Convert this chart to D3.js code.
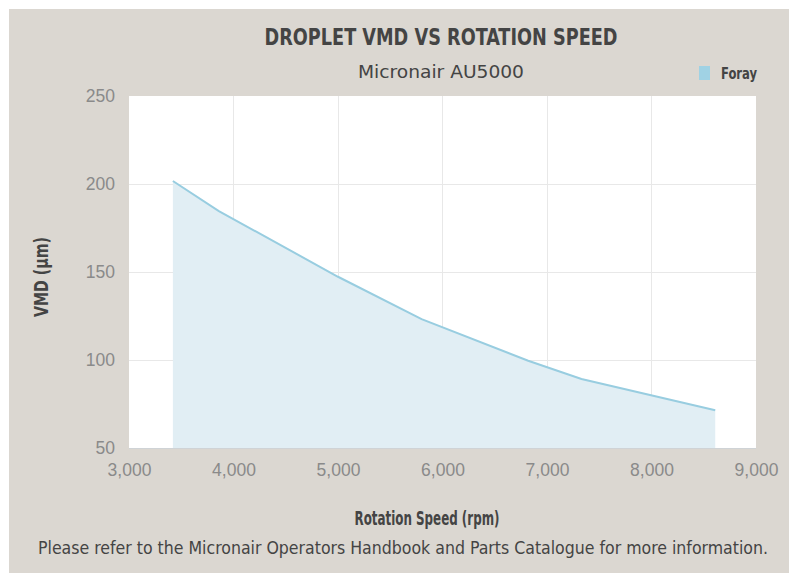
<!DOCTYPE html>
<meta charset="utf-8">
<style>
    body {
        margin: 0;
        background: #fff;
    }

    svg {
        font-family: "Liberation Sans Narrow", "DejaVu Sans Condensed", sans-serif;
    }

    .grid line {
        stroke: #e8e8e8;
        shape-rendering: crispEdges;
    }

    .axis path,
    .axis line {
        display: none;
    }

    .axis text {
        fill: #8a8a8a;
        font-size: 17.5px;
    }
</style>
<body>
<script src="https://cdn.jsdelivr.net/npm/d3@7"></script>
<script>
    // chart data
    const rpm = [3420, 3860, 5000, 5800, 6820, 7330, 8610];
    const vmd = [201.7, 184.6, 147.3, 123.2, 99.6, 89.2, 71.5];
    const xTicks = [3000, 4000, 5000, 6000, 7000, 8000, 9000];
    const yTicks = [50, 100, 150, 200, 250];
    const seriesName = 'Foray';

    const W = 792, H = 573;
    const margin = {top: 96, right: 36, bottom: 125, left: 129};
    const width = W - margin.left - margin.right;   // plot width
    const height = H - margin.top - margin.bottom;  // plot height

    const lineColor = '#98cde0';
    const fillColor = '#e1eef4';

    const svg = d3.select('body')
        .append('svg')
        .attr('width', W)
        .attr('height', H);

    // beige panel behind everything
    svg.append('rect')
        .attr('x', 9)
        .attr('y', 9)
        .attr('width', 780)
        .attr('height', H)
        .attr('fill', '#dbd7d1');

    const g = svg.append('g')
        .attr('transform', `translate(${margin.left},${margin.top})`);

    const x = d3.scaleLinear().domain([3000, 9000]).range([0, width]);
    const y = d3.scaleLinear().domain([50, 250]).range([height, 0]);

    // plot background
    g.append('rect')
        .attr('width', width)
        .attr('height', height)
        .attr('fill', '#fff');

    // grid
    g.append('g')
        .attr('class', 'grid')
        .selectAll('line.v')
        .data(xTicks.slice(1, -1))
        .enter().append('line')
        .attr('x1', d => x(d)).attr('x2', d => x(d))
        .attr('y1', 0).attr('y2', height);

    g.append('g')
        .attr('class', 'grid')
        .selectAll('line.h')
        .data(yTicks.slice(1, -1))
        .enter().append('line')
        .attr('x1', 0).attr('x2', width)
        .attr('y1', d => y(d)).attr('y2', d => y(d));

    const data = rpm.map((r, i) => ({x: r, y: vmd[i]}));

    // area + line
    g.append('path')
        .datum(data)
        .attr('fill', fillColor)
        .attr('d', d3.area().x(d => x(d.x)).y0(height).y1(d => y(d.y)));

    g.append('path')
        .datum(data)
        .attr('fill', 'none')
        .attr('stroke', lineColor)
        .attr('stroke-width', 2)
        .attr('d', d3.line().x(d => x(d.x)).y(d => y(d.y)));

    // bottom edge of plot
    g.append('line')
        .attr('x1', 0).attr('x2', width)
        .attr('y1', height + 0.5).attr('y2', height + 0.5)
        .attr('stroke', '#cfd3d6');

    // axes
    g.append('g')
        .attr('class', 'x axis')
        .attr('transform', `translate(0,${height})`)
        .call(d3.axisBottom(x).tickValues(xTicks).tickFormat(d3.format(',')).tickSize(0).tickPadding(16));

    g.append('g')
        .attr('class', 'y axis')
        .call(d3.axisLeft(y).tickValues(yTicks).tickSize(0).tickPadding(14));

    function label(sel, txt, len) {
        return sel.text(txt)
            .attr('textLength', len)
            .attr('lengthAdjust', 'spacingAndGlyphs');
    }

    // titles
    label(svg.append('text')
        .attr('x', 441)
        .attr('y', 45)
        .attr('text-anchor', 'middle')
        .attr('font-size', 22.5)
        .attr('font-weight', 'bold')
        .attr('fill', '#444'), 'DROPLET VMD VS ROTATION SPEED', 353);

    label(svg.append('text')
        .attr('x', 441)
        .attr('y', 78)
        .attr('text-anchor', 'middle')
        .attr('font-size', 18)
        .attr('fill', '#444'), 'Micronair AU5000', 166);

    label(svg.append('text')
        .attr('x', 427)
        .attr('y', 525)
        .attr('text-anchor', 'middle')
        .attr('font-size', 19)
        .attr('font-weight', 'bold')
        .attr('fill', '#444'), 'Rotation Speed (rpm)', 145);

    label(svg.append('text')
        .attr('transform', 'translate(48,277) rotate(-90)')
        .attr('text-anchor', 'middle')
        .attr('font-size', 19)
        .attr('font-weight', 'bold')
        .attr('fill', '#444'), 'VMD (µm)', 80);

    label(svg.append('text')
        .attr('x', 403)
        .attr('y', 554)
        .attr('text-anchor', 'middle')
        .attr('font-size', 17.5)
        .attr('fill', '#444'), 'Please refer to the Micronair Operators Handbook and Parts Catalogue for more information.', 730);

    // legend
    const legend = svg.append('g').attr('transform', 'translate(699,66)');
    legend.append('rect')
        .attr('width', 11)
        .attr('height', 14)
        .attr('fill', '#a0d2e4');
    label(legend.append('text')
        .attr('x', 22)
        .attr('y', 13)
        .attr('font-size', 16)
        .attr('font-weight', 'bold')
        .attr('fill', '#444'), seriesName, 36);
</script>
</body>
</html>
